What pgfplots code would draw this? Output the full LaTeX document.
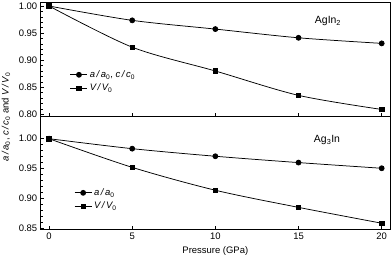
\documentclass[border=0pt]{standalone}
\usepackage{pgfplots}
\pgfplotsset{compat=1.18}
\usepackage{fontspec}
\setmainfont{Liberation Sans}
\begin{document}
\begin{tikzpicture}
\pgfplotsset{
  panel/.style={
    scale only axis, width=349.3bp,
    xmin=-0.5, xmax=20.5,
    xtick={0,5,10,15,20},
    tick align=inside, xtick pos=bottom, ytick pos=left,
    minor y tick num=4,
    major tick length=3bp, minor tick length=2bp,
    tick style={black, line width=0.6pt},
    axis line style={line width=0.7pt},
    /pgf/number format/assume math mode=true,
    yticklabel style={/pgf/number format/fixed, /pgf/number format/fixed zerofill, /pgf/number format/precision=2},
    tick label style={font=\fontsize{9.5}{11}\selectfont},
    legend style={draw=none, fill=none, font=\fontsize{9.5}{11}\selectfont, anchor=west, row sep=1bp},
    legend cell align=left,
    every axis plot/.append style={black, line width=0.75pt},
  }
}
\path[use as bounding box] (0,0) rectangle (392bp,261bp);
% top panel
\begin{axis}[panel, at={(40.7bp,145bp)}, anchor=south west, height=114bp,
  ymin=0.7969, ymax=1.0074, ytick={0.80,0.85,0.90,0.95,1.00}, xticklabels={},
  legend style={at={(0.075,0.303)}}]
\addplot[smooth, mark=*, mark size=2.5bp] coordinates {(0,1.000) (5,0.9735) (10,0.9574) (15,0.9413) (20,0.931)};
\addlegendentry{{\itshape a\,/\,a}\textsubscript{0}, {\itshape c\,/\,c}\textsubscript{0}}
\addplot[smooth, mark=square*, mark size=2.2bp] coordinates {(0,1.000) (5,0.924) (10,0.880) (15,0.835) (20,0.809)};
\addlegendentry{{\itshape V\,/\,V}\textsubscript{0}}
\end{axis}
% bottom panel
\begin{axis}[panel, at={(40.7bp,31.7bp)}, anchor=south west, height=113.3bp,
  ymin=0.8483, ymax=1.038, ytick={0.85,0.90,0.95,1.00},
  xlabel={Pressure (GPa)}, xlabel style={font=\fontsize{9.5}{11}\selectfont},
  legend style={at={(0.087,0.263)}}]
\addplot[smooth, mark=*, mark size=2.5bp] coordinates {(0,1.000) (5,0.9833) (10,0.9706) (15,0.960) (20,0.9505)};
\addlegendentry{{\itshape a\,/\,a}\textsubscript{0}}
\addplot[smooth, mark=square*, mark size=2.2bp] coordinates {(0,1.000) (5,0.952) (10,0.9137) (15,0.885) (20,0.8585)};
\addlegendentry{{\itshape V\,/\,V}\textsubscript{0}}
\end{axis}
\node[rotate=90, font=\fontsize{9.5}{11}\selectfont] at (6bp,144bp) {{\itshape a\,/\,a}\textsubscript{0}, {\itshape c\,/\,c}\textsubscript{0} and {\itshape V\,/\,V}\textsubscript{0}};
\node[font=\fontsize{10.5}{12}\selectfont] at (328bp,240bp) {AgIn\textsubscript{2}};
\node[font=\fontsize{10.5}{12}\selectfont] at (327bp,121bp) {Ag\textsubscript{3}In};
\end{tikzpicture}
\end{document}
